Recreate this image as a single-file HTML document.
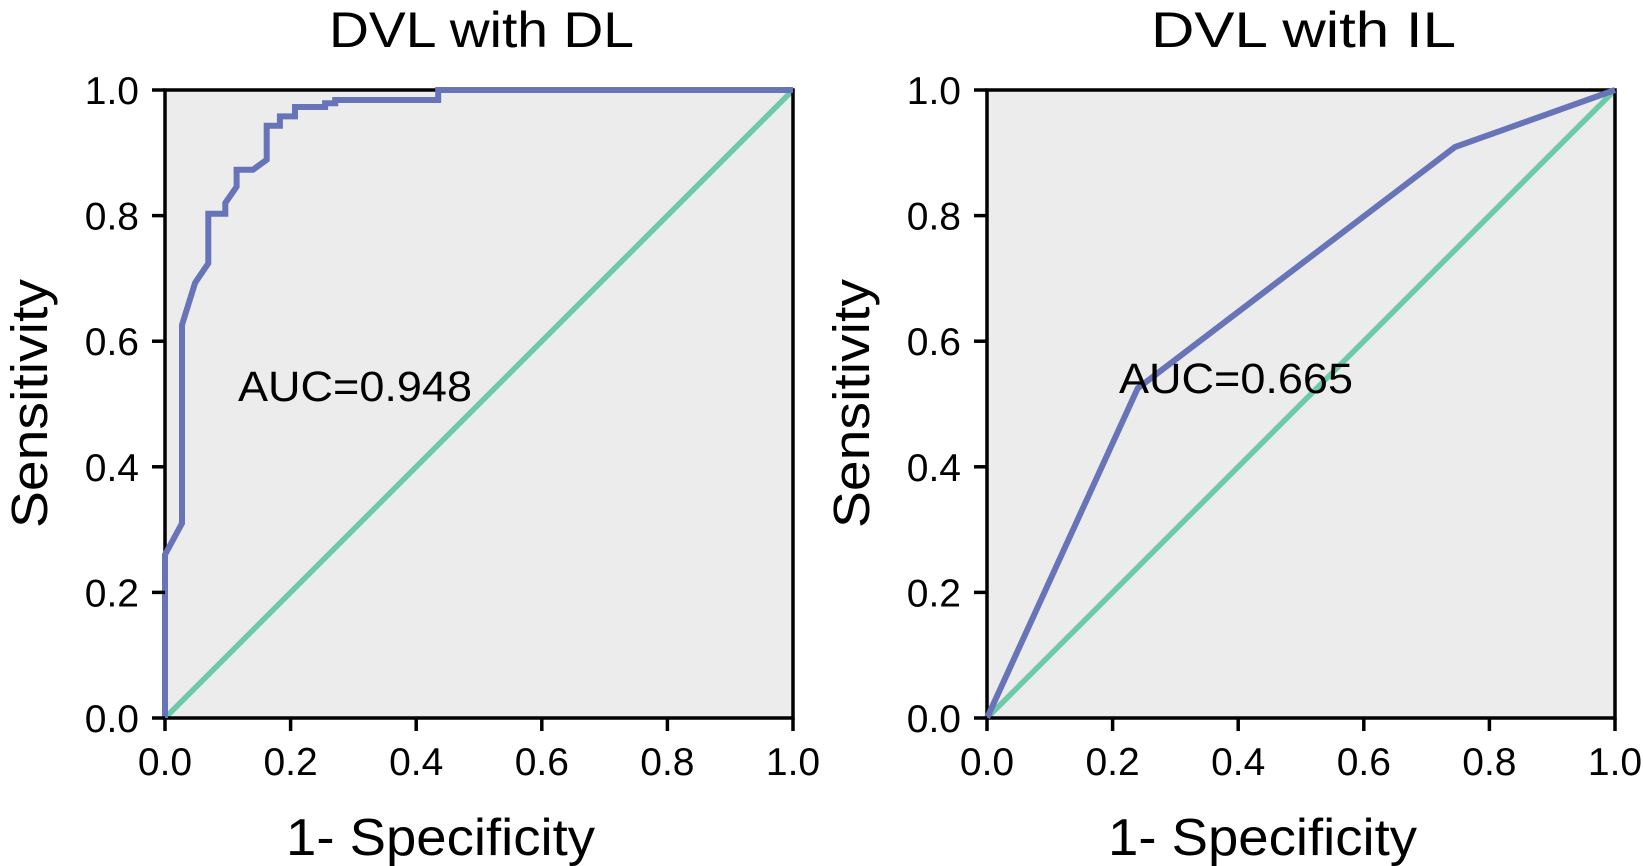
<!DOCTYPE html>
<html><head><meta charset="utf-8">
<style>
html,body{margin:0;padding:0;background:#fff;}
svg{display:block;font-family:"Liberation Sans",Arial,sans-serif;}
</style></head>
<body>
<svg id="chart" width="1643" height="866" viewBox="0 0 1643 866"></svg>
<script>
const ticks = [0, 0.2, 0.4, 0.6, 0.8, 1.0];
const tickLabels = ["0.0","0.2","0.4","0.6","0.8","1.0"];
const dlFpr = [0,0,0.027,0.027,0.048,0.069,0.069,0.096,0.096,0.114,0.114,0.14,0.162,0.162,0.183,0.183,0.207,0.207,0.255,0.255,0.271,0.271,0.435,0.435,1];
const dlTpr = [0,0.26,0.31,0.626,0.693,0.724,0.803,0.803,0.82,0.846,0.873,0.873,0.889,0.943,0.943,0.958,0.958,0.973,0.973,0.979,0.979,0.984,0.984,1,1];
const ilFpr = [0,0.24,0.745,1];
const ilTpr = [0,0.525,0.909,1];
const titles = ["DVL with DL","DVL with IL"];
const aucLabels = ["AUC=0.948","AUC=0.665"];

const NS="http://www.w3.org/2000/svg";
const svg=document.getElementById('chart');
function mk(tag,attrs,parent){const e=document.createElementNS(NS,tag);for(const k in attrs)e.setAttribute(k,attrs[k]);(parent||svg).appendChild(e);return e;}

const panels=[{x0:165,fpr:dlFpr,tpr:dlTpr,title:titles[0],auc:aucLabels[0],ax:238,ay:401,key:'dl'},
              {x0:987,fpr:ilFpr,tpr:ilTpr,title:titles[1],auc:aucLabels[1],ax:1119,ay:393,key:'il'}];
const y0=718,S=628;
panels.forEach(p=>{
  const sx=v=>p.x0+v*S, sy=v=>y0-v*S;
  const g=mk('g',{});
  
  
  const bg=mk('rect',{x:sx(0),y:sy(1),width:S,height:S,fill:'#ececec'},g);
  
  
  const diag=mk('line',{x1:sx(0),y1:sy(0),x2:sx(1),y2:sy(1),stroke:'#6ccaa8','stroke-width':5.5},g);
  
  
  const frame=mk('rect',{x:sx(0),y:sy(1),width:S,height:S,fill:'none',stroke:'#000','stroke-width':3.5},g);
  
  
  const pts=p.fpr.map((v,i)=>sx(v).toFixed(1)+','+sy(p.tpr[i]).toFixed(1)).join(' ');
  const curve=mk('polyline',{points:pts,fill:'none',stroke:'#6874b8','stroke-width':6,'stroke-linejoin':'miter'},g);
  
  
  ticks.forEach((t,i)=>{
    mk('line',{x1:sx(0)-13,y1:sy(t),x2:sx(0),y2:sy(t),stroke:'#000','stroke-width':3.5},g);
    mk('line',{x1:sx(t),y1:y0,x2:sx(t),y2:y0+13,stroke:'#000','stroke-width':3.5},g);
    const yl=mk('text',{x:sx(0)-26,y:sy(t)+14,'text-anchor':'end','font-size':39},g);
    yl.textContent=tickLabels[i];
    
    
    const xl=mk('text',{x:sx(t),y:775,'text-anchor':'middle','font-size':39},g);
    xl.textContent=tickLabels[i];
    
    
  });
  const tt=mk('text',{x:sx(0.5)-150,y:47,'font-size':50,textLength:305,lengthAdjust:'spacingAndGlyphs'},g);
  tt.textContent=p.title;
  
  
  const xt=mk('text',{x:sx(0.5)-193,y:855,'font-size':52,textLength:309,lengthAdjust:'spacingAndGlyphs'},g);
  xt.textContent='1- Specificity';
  
  
  const yt=mk('text',{x:-124,y:0,'font-size':51,textLength:249,lengthAdjust:'spacingAndGlyphs',transform:`translate(${p.x0-118},${sy(0.5)}) rotate(-90)`},g);
  yt.textContent='Sensitivity';
  
  
  const at=mk('text',{x:p.ax,y:p.ay,'font-size':43,textLength:234,lengthAdjust:'spacingAndGlyphs'},g);
  at.textContent=p.auc;
  
  
});
</script>
</body></html>
